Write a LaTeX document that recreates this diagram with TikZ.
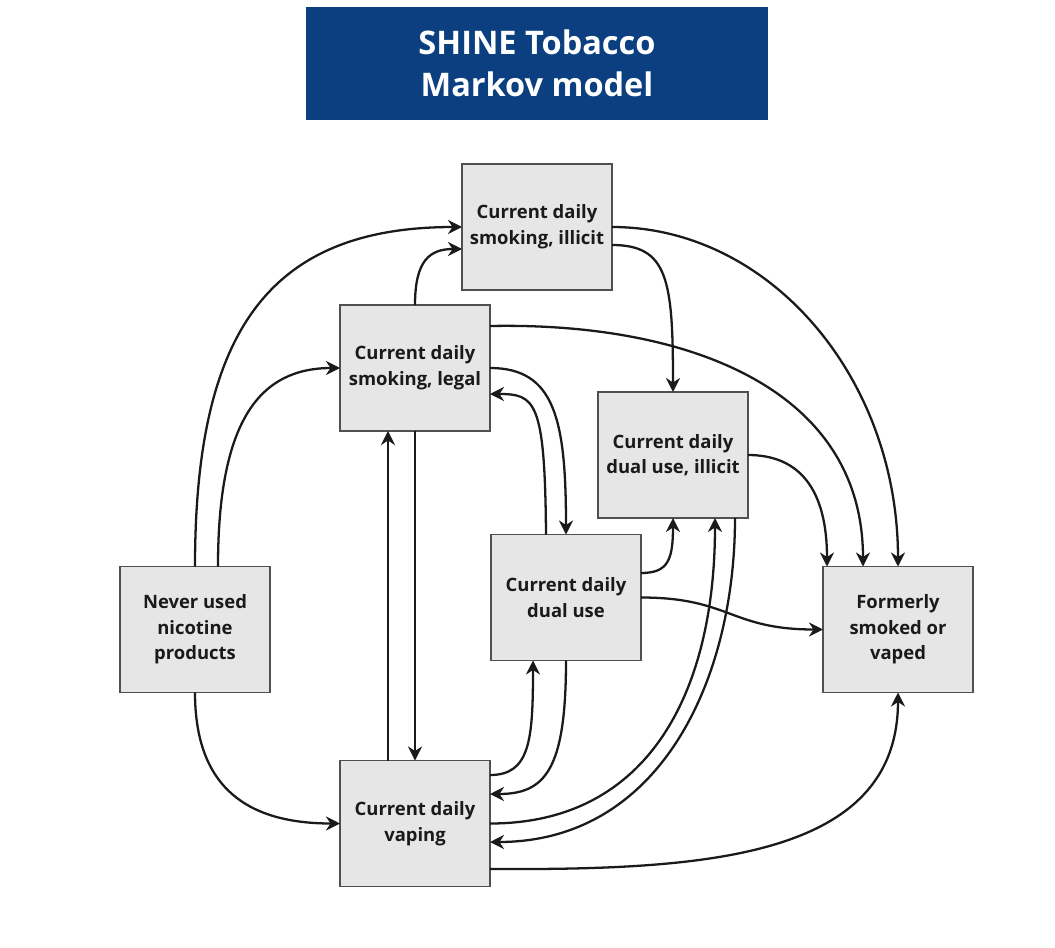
\documentclass[tikz,border=0pt]{standalone}
\usepackage{fontspec}
\setmainfont{Open Sans}
\usepackage{tikz}
\usetikzlibrary{arrows.meta,calc}
\definecolor{boxgray}{HTML}{E6E6E6}
\definecolor{edgegray}{HTML}{505050}
\definecolor{titleblue}{HTML}{0B3F80}
\definecolor{linedark}{HTML}{1A1A1A}

\begin{document}
\begin{tikzpicture}[x=0.02cm,y=-0.02cm,
        box/.style={draw=edgegray,line width=0.9pt,fill=boxgray,rectangle,minimum width=3cm,minimum height=2.52cm,align=center,font=\bfseries\fontsize{10.5}{14.6}\selectfont,text=linedark,inner sep=0pt,outer sep=0pt},
        head/.style={fill=titleblue,rectangle,minimum width=9.24cm,minimum height=2.26cm,align=center,text=white,font=\bfseries\fontsize{18.5}{24}\selectfont},
        link/.style={draw=linedark,line width=1.3pt,-{Stealth[length=8pt,width=8pt]}}]
   \useasboundingbox (0,0) rectangle (1055,947);
   \node[head] (T) at (537,63.5) {SHINE Tobacco\\Markov model};
   \node[box] (I) at (537,227) {Current daily\\smoking, illicit};
   \node[box] (L) at (415,368) {Current daily\\smoking, legal};
   \node[box] (DI) at (673,455) {Current daily\\dual use, illicit};
   \node[box] (D) at (566,597.5) {Current daily\\dual use};
   \node[box] (N) at (195,629.5) {Never used\\nicotine\\products};
   \node[box] (F) at (898,629.5) {Formerly\\smoked or\\vaped};
   \node[box] (V) at (415,823.5) {Current daily\\vaping};

   \draw[link] (N.north) .. controls (195,330) and (270,227) .. (I.west);
   \draw[link] ($(N.north)+(23,0)$) .. controls (218,420) and (260,368) .. (L.west);
   \draw[link] (N.south) .. controls (195,790) and (250,823.5) .. (V.west);
   \draw[link] (L.north) .. controls (415,260) and (430,249) .. ($(I.west)+(0,22)$);
   \draw[link] ($(L.east)+(0,-42)$) .. controls (690,322) and (863,390) .. ($(F.north)+(-35,0)$);
   \draw[link] (I.east) .. controls (770,227) and (898,378) .. (F.north);
   \draw[link] ($(I.east)+(0,18)$) .. controls (668,245) and (673,280) .. (DI.north);
   \draw[link] (DI.east) .. controls (800,455) and (827,490) .. ($(F.north)+(-71,0)$);
   \draw[link] (L.east) .. controls (555,368) and (566,420) .. (D.north);
   \draw[link] ($(D.north)+(-20,0)$) .. controls (545,400) and (535,394) .. ($(L.east)+(0,26)$);
   \draw[link] ($(V.north)+(-27,0)$) -- ($(L.south)+(-27,0)$);
   \draw[link] (L.south) -- (V.north);
   \draw[link] ($(D.east)+(0,-24.5)$) .. controls (668,573) and (673,560) .. (DI.south);
   \draw[link] (D.east) .. controls (730,597.5) and (730,629.5) .. (F.west);
   \draw[link] ($(V.east)+(0,-48.5)$) .. controls (530,775) and (533,740) .. ($(D.south)+(-33,0)$);
   \draw[link] (D.south) .. controls (566,770) and (545,794) .. ($(V.east)+(0,-29.5)$);
   \draw[link] (V.east) .. controls (650,823.5) and (715,690) .. ($(DI.south)+(42,0)$);
   \draw[link] ($(DI.south)+(62,0)$) .. controls (735,680) and (660,842) .. ($(V.east)+(0,18.5)$);
   \draw[link] ($(V.east)+(0,45.5)$) .. controls (700,870) and (898,860) .. (F.south);
\end{tikzpicture}
\end{document}
